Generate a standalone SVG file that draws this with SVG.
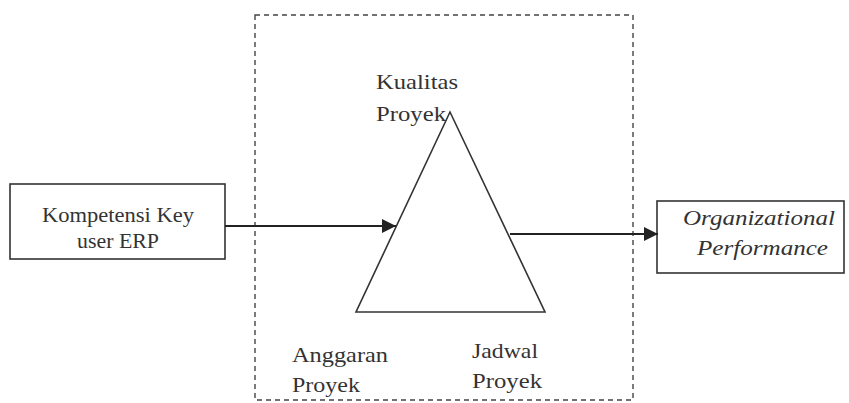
<svg xmlns="http://www.w3.org/2000/svg" width="849" height="403" viewBox="0 0 849 403">
<style>
text{font-family:'Liberation Serif','Times New Roman',serif;font-size:21px;fill:#333}
.it{font-style:italic}
.box{fill:#fff;stroke:#333;stroke-width:1.6}
.edge{stroke:#222;stroke-width:2;fill:none}
</style>
<defs>
<marker id="ah" viewBox="0 0 10 10" refX="10" refY="5" markerWidth="14" markerHeight="14" markerUnits="userSpaceOnUse" orient="auto">
<path d="M0,0 L10,5 L0,10 z" fill="#222"/>
</marker>
</defs>
<rect width="849" height="403" fill="#fff"/>
<g id="frame">
<rect x="255" y="15" width="378" height="385" fill="none" stroke="#444" stroke-width="1.4" stroke-dasharray="5,4"/>
</g>
<g id="competency">
<rect class="box" x="10" y="184" width="215" height="75"/>
<text x="42" y="222" textLength="152" lengthAdjust="spacingAndGlyphs">Kompetensi Key</text>
<text x="77" y="248" textLength="82" lengthAdjust="spacingAndGlyphs">user ERP</text>
</g>
<g id="triangle">
<polygon points="450,112 356,312 545,312" fill="none" stroke="#333" stroke-width="1.6"/>
<text x="376" y="89" textLength="82" lengthAdjust="spacingAndGlyphs">Kualitas</text>
<text x="376" y="121" textLength="70" lengthAdjust="spacingAndGlyphs">Proyek</text>
<text x="292" y="362" textLength="96" lengthAdjust="spacingAndGlyphs">Anggaran</text>
<text x="292" y="392" textLength="68" lengthAdjust="spacingAndGlyphs">Proyek</text>
<text x="472" y="358" textLength="66" lengthAdjust="spacingAndGlyphs">Jadwal</text>
<text x="472" y="388" textLength="70" lengthAdjust="spacingAndGlyphs">Proyek</text>
</g>
<g id="performance">
<rect class="box" x="657" y="201" width="187" height="72"/>
<text class="it" x="683" y="225" textLength="152" lengthAdjust="spacingAndGlyphs">Organizational</text>
<text class="it" x="697" y="255" textLength="131" lengthAdjust="spacingAndGlyphs">Performance</text>
</g>
<g id="connectors">
<line class="edge" x1="225" y1="226" x2="396" y2="226" marker-end="url(#ah)"/>
<line class="edge" x1="510" y1="234" x2="658" y2="234" marker-end="url(#ah)"/>
</g>
</svg>
